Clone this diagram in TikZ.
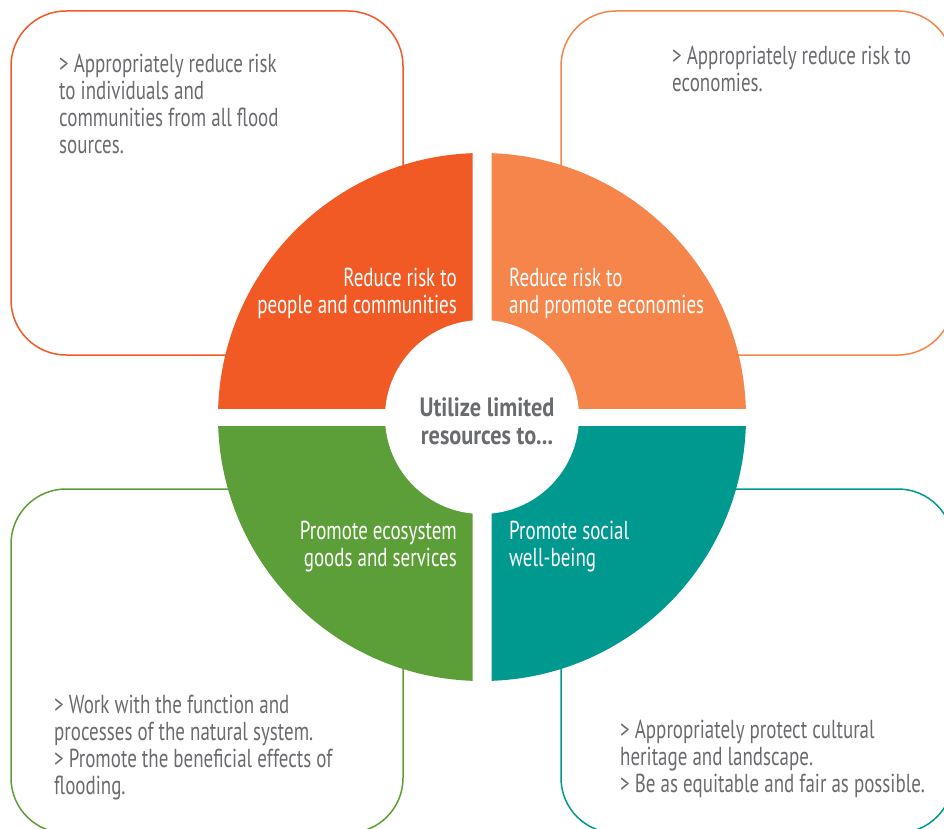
\documentclass[tikz,border=0pt]{standalone}
\usepackage{fontspec}
\setmainfont{PT Sans}[FakeStretch=0.73, BoldFeatures={FakeStretch=0.84}]
\definecolor{riskred}{HTML}{F15A24}
\definecolor{econorange}{HTML}{F5854A}
\definecolor{ecogreen}{HTML}{5C9F38}
\definecolor{socialteal}{HTML}{009990}
\definecolor{textgray}{HTML}{6A6B6E}
\begin{document}
\begin{tikzpicture}[x=1pt, y=-1pt,
      goal box/.style={line width=1.5pt, rounded corners=55pt},
      aim text/.style={align=left, text=textgray, inner sep=0pt,
                       font=\fontsize{26}{27}\selectfont},
      quad text/.style={text=white, inner sep=0pt,
                        font=\fontsize{26}{27}\selectfont}]
    \useasboundingbox (0,0) rectangle (944,829);
    % outer boxes
    \draw[goal box, draw=riskred] (11,11) rectangle (403,355);
    \draw[goal box, draw=econorange] (561,11) rectangle (953,355);
    \draw[goal box, draw=ecogreen] (11,489) rectangle (403,833);
    \draw[goal box, draw=socialteal] (561,489) rectangle (953,833);
    % quadrants
    \begin{scope}
        \clip (0,0) rectangle (472.5,408);
        \fill[riskred] (482,417) circle (264);
    \end{scope}
    \begin{scope}
        \clip (491.5,0) rectangle (944,408);
        \fill[econorange] (482,417) circle (264);
    \end{scope}
    \begin{scope}
        \clip (0,426) rectangle (472.5,829);
        \fill[ecogreen] (482,417) circle (264);
    \end{scope}
    \begin{scope}
        \clip (491.5,426) rectangle (944,829);
        \fill[socialteal] (482,417) circle (264);
    \end{scope}
    \node[circle, fill=white, minimum size=194pt, inner sep=0pt] (hub) at (482,417) {};
    \node[align=center, text=textgray, inner sep=0pt,
          font=\fontsize{26.5}{28}\selectfont\bfseries, anchor=base] (hubtext) at (487,444)
          {Utilize limited\\resources to...};
    % quadrant labels
    \node[quad text, align=right, anchor=base east] (people) at (457,313)
          {Reduce risk to\\people and communities};
    \node[quad text, align=left, anchor=base west] (economy) at (509,313)
          {Reduce risk to\\and promote economies};
    \node[quad text, align=right, anchor=base east] (ecosystem) at (457,566)
          {Promote ecosystem\\goods and services};
    \node[quad text, align=left, anchor=base west] (social) at (509,566)
          {Promote social\\well-being};
    % box texts
    \node[aim text, anchor=base west] (peopleaims) at (59,154)
          {> Appropriately reduce risk\\to individuals and\\communities from all flood\\sources.};
    \node[aim text, anchor=base west] (economyaims) at (672,92)
          {> Appropriately reduce risk to\\economies.};
    \node[aim text, anchor=base west] (ecosystemaims) at (54,794)
          {> Work with the function and\\processes of the natural system.\\> Promote the beneficial effects of\\flooding.};
    \node[aim text, anchor=base west] (socialaims) at (620,792)
          {> Appropriately protect cultural\\heritage and landscape.\\> Be as equitable and fair as possible.};
\end{tikzpicture}
\end{document}
